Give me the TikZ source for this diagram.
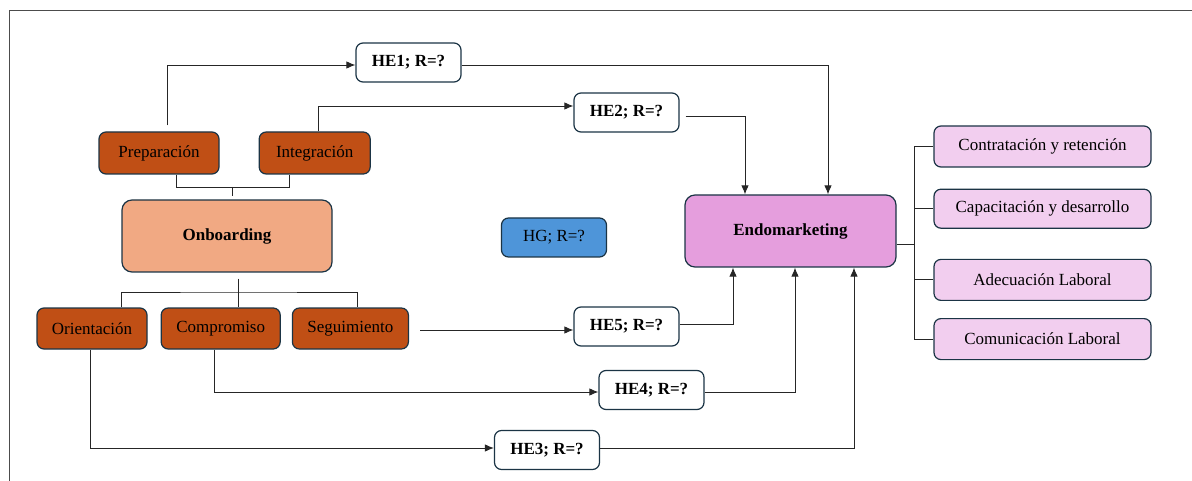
\documentclass[tikz,border=0pt]{standalone}
\usepackage{fontspec}
\setmainfont{Liberation Serif}
\usetikzlibrary{arrows.meta,positioning}
\definecolor{darkorg}{HTML}{C04F15}
\definecolor{lightorg}{HTML}{F1A983}
\definecolor{endopink}{HTML}{E59EDD}
\definecolor{palepink}{HTML}{F2CEEF}
\definecolor{hgblue}{HTML}{4E95D9}
\definecolor{edge}{HTML}{1B3445}
\definecolor{wire}{HTML}{262626}

\begin{document}
\begin{tikzpicture}[x=1pt, y=-1pt, >={Latex[length=9pt,width=7.5pt]},
  box/.style={rectangle, draw=edge, line width=1.2pt, rounded corners=7pt, inner sep=0pt, font=\rmfamily\fontsize{17}{20}\selectfont},
  hyp/.style={box, fill=white, minimum width=105pt, minimum height=39pt, font=\rmfamily\fontsize{17}{20}\selectfont\bfseries},
  dim/.style={box, fill=darkorg, minimum height=42pt},
  core/.style={box, minimum height=72pt, rounded corners=10pt, font=\rmfamily\fontsize{17}{20}\selectfont\bfseries},
  facet/.style={box, fill=palepink, minimum width=217pt, minimum height=41pt},
  link/.style={draw=wire, line width=0.9pt}]
\useasboundingbox (0,0) rectangle (1192,481);
\draw [gray!60!black, line width=0.8pt] (9,481) -- (9,10) -- (1192,10);

\node (he1) [hyp] at (408.5,62.5) {HE1; R=?};
\node (he2) [hyp] at (626.5,112.5) {HE2; R=?};
\node (prep) [dim, minimum width=120pt] at (159,153) {Preparación};
\node (integ) [dim, minimum width=111pt, right=39pt of prep] {Integración};
\node (onb) [core, fill=lightorg, minimum width=210pt] at (227,236) {Onboarding};
\node (hg) [box, fill=hgblue, minimum width=105pt, minimum height=39pt] at (554,237.5) {HG; R=?};
\node (endo) [core, fill=endopink, minimum width=211pt] at (790.5,231) {Endomarketing};
\node (orient) [dim, minimum width=110pt, minimum height=41pt] at (92,328.5) {Orientación};
\node (comp) [dim, minimum width=119pt, minimum height=41pt, right=13pt of orient] {Compromiso};
\node (seg) [dim, minimum width=116pt, minimum height=41pt, right=11pt of comp] {Seguimiento};
\node (he5) [hyp] at (626.5,326.5) {HE5; R=?};
\node (he4) [hyp] at (651.5,390) {HE4; R=?};
\node (he3) [hyp] at (547,450) {HE3; R=?};
\node (contr) [facet] at (1042.5,146.5) {Contratación y retención};
\node (capac) [facet, minimum height=39pt, below=21pt of contr] {Capacitación y desarrollo};
\node (adec) [facet, below=30pt of capac] {Adecuación Laboral};
\node (comun) [facet, below=17pt of adec] {Comunicación Laboral};

\coordinate (topjoin) at (232,187);
\coordinate (botjoin) at (238,292);
\coordinate (rjoin) at (914.5,244);

\draw [link] ([xshift=17pt]prep.south) -- ++(0,-13pt) -| ([xshift=-25.5pt]integ.south);
\draw [link] (topjoin) -- ([yshift=3pt]onb.north -| topjoin);
\draw [link] ([yshift=-6pt]onb.south -| botjoin) -- (botjoin);
\draw [link] ([xshift=29pt]orient.north) |- (botjoin) -| ([xshift=7pt]seg.north);
\draw [link] (botjoin) -- (botjoin |- comp.north);
\draw [link] ([yshift=-13pt]endo.east) -- (rjoin);
\foreach \f in {contr,capac,adec,comun}
  \draw [link] (\f.west) -| (rjoin);

\draw [link, ->] ([xshift=8.5pt, yshift=6pt]prep.north) |- ([yshift=-2.5pt]he1.west);
\draw [link, ->] ([xshift=3.5pt]integ.north) |- ([yshift=6.5pt]he2.west);
\draw [link, ->] ([yshift=-2.5pt]he1.east) -| ([xshift=37.5pt]endo.north);
\draw [link, ->] ([xshift=6pt, yshift=-3.5pt]he2.east) -| ([xshift=-45.5pt]endo.north);
\draw [link, ->] ([xshift=11pt, yshift=-1.5pt]seg.east) -- ([yshift=-1.5pt]seg.east -| he5.west);
\draw [link, ->] ([yshift=2.5pt]he5.east) -| ([xshift=-57.5pt]endo.south);
\draw [link, ->] ([xshift=-6.5pt]comp.south) |- ([yshift=-2pt]he4.west);
\draw [link, ->] ([yshift=-2pt]he4.east) -| ([xshift=4.5pt]endo.south);
\draw [link, ->] ([xshift=-2pt]orient.south) |- ([yshift=2pt]he3.west);
\draw [link, ->] ([yshift=2pt]he3.east) -| ([xshift=63.5pt]endo.south);
\end{tikzpicture}
\end{document}
